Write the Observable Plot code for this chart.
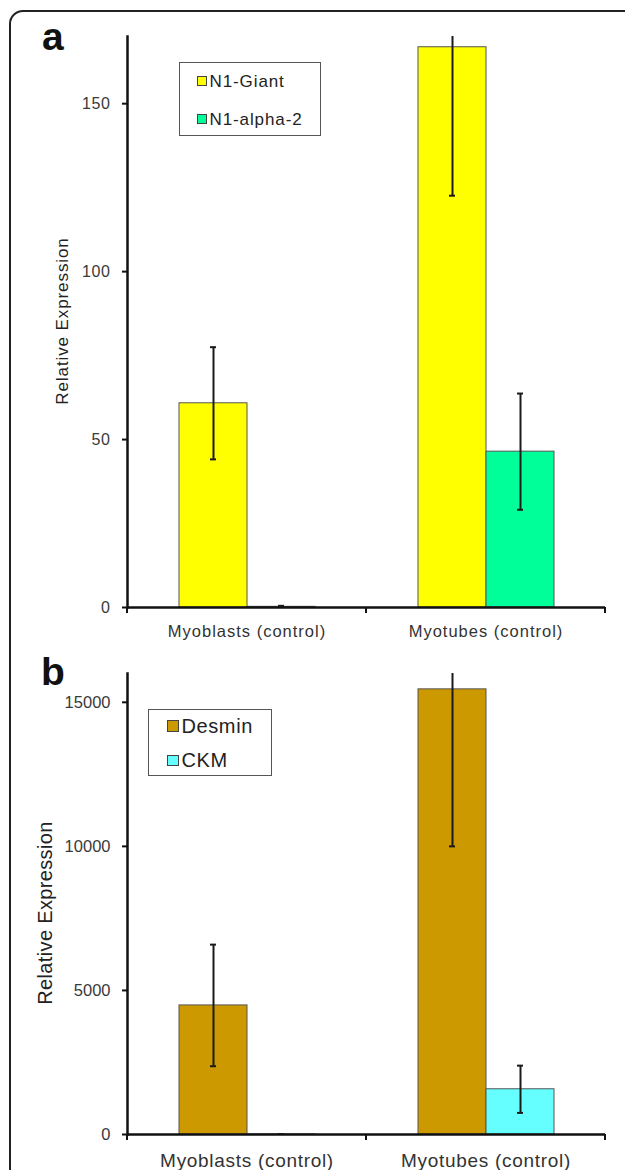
<!DOCTYPE html>
<html><head><meta charset="utf-8">
<script src="https://cdn.jsdelivr.net/npm/d3@7"></script>
<script src="https://cdn.jsdelivr.net/npm/@observablehq/plot@0.6"></script>
<style>
body{margin:0;background:#fff;}
#page{position:relative;width:625px;height:1170px;overflow:hidden;font-family:"Liberation Sans",Arial,sans-serif;background:#fff;}
#frame{position:absolute;left:9px;top:10px;width:700px;height:1300px;border:2px solid #222;border-radius:14px;box-sizing:border-box;}
.chart{position:absolute;left:0;}
.letter{position:absolute;font-weight:bold;font-size:39px;line-height:1;color:#111;}
.ylab{position:absolute;white-space:nowrap;line-height:1;transform:translate(-50%,-50%) rotate(-90deg);color:#222;}
.legend{position:absolute;border:1.5px solid #555;box-sizing:border-box;background:#fff;}
.item{position:absolute;white-space:nowrap;line-height:1;color:#222;}
.sw{position:absolute;border:1px solid #444;box-sizing:border-box;}
#chartA g[aria-label="y-axis tick label"], #chartB g[aria-label="y-axis tick label"]{fill:#3a3a3a;}
#chartA g[aria-label="y-axis tick label"]{letter-spacing:0.6px;}
#chartA g[aria-label="fx-axis tick label"]{fill:#333;letter-spacing:1px;}
#chartB g[aria-label="fx-axis tick label"]{fill:#333;letter-spacing:0.7px;}
</style>
</head><body>
<div id="page">
  <div id="frame"></div>
  <div id="chartA" class="chart" style="top:0"></div>
  <div id="chartB" class="chart" style="top:640px"></div>
  <div class="letter" style="left:42px;top:17px">a</div>
  <div class="letter" style="left:41px;top:652px">b</div>
  <div class="ylab" style="left:62px;top:321px;font-size:17px;letter-spacing:0.9px">Relative Expression</div>
  <div class="ylab" style="left:45px;top:913px;font-size:20px;letter-spacing:0.35px">Relative Expression</div>
  <div id="legendA"></div>
  <div id="legendB"></div>
</div>
<script>
// ---------- data ----------
const groups = ["Myoblasts (control)", "Myotubes (control)"];

const seriesA = ["N1-Giant", "N1-alpha-2"];
const giantMean = [60.8, 166.8];
const giantErr = [16.7, 44.2];
const alpha2Mean = [0.2, 46.4];
const alpha2Err = [0.3, 17.3];
const colorsA = ["#ffff00", "#00ff99"];
const ticksA = [0, 50, 100, 150];

const seriesB = ["Desmin", "CKM"];
const desminMean = [4480, 15450];
const desminErr = [2110, 5450];
const ckmMean = [3, 1570];
const ckmErr = [2, 820];
const colorsB = ["#cc9900", "#66ffff"];
const ticksB = [0, 5000, 10000, 15000];

function rowsOf(series, means, errs) {
  return groups.flatMap((g, i) => series.map((s, j) => ({group: g, series: s, mean: means[j][i], err: errs[j][i]})));
}
const rowsA = rowsOf(seriesA, [giantMean, alpha2Mean], [giantErr, alpha2Err]);
const rowsB = rowsOf(seriesB, [desminMean, ckmMean], [desminErr, ckmErr]);

function boundaryTicks(index, scales, values, dim) {
  const g = d3.create("svg:g");
  const y0 = scales.y(0);
  for (const x of [dim.marginLeft, dim.width - dim.marginRight]) {
    g.append("line").attr("x1", x).attr("x2", x).attr("y1", y0).attr("y2", y0 + 6)
      .attr("stroke", "#111").attr("stroke-width", 2);
  }
  return g.node();
}

function panel(o) {
  return Plot.plot({
    width: 625, height: o.height,
    marginLeft: 127, marginRight: 20, marginTop: o.marginTop, marginBottom: o.marginBottom,
    style: {fontFamily: "'Liberation Sans', Arial, sans-serif", background: "transparent", overflow: "visible"},
    fx: {domain: groups, paddingInner: 0, paddingOuter: 0},
    x: {domain: o.series, paddingInner: 0, paddingOuter: 0.757, axis: null},
    y: {domain: o.yDomain},
    color: {domain: o.series, range: o.colors},
    marks: [
      Plot.barY(o.rows, {fx: "group", x: "series", y: "mean", fill: "series", stroke: "#555", strokeWidth: 1}),
      Plot.ruleX(o.rows, {fx: "group", x: "series", y1: d => Math.max(0, d.mean - d.err), y2: d => d.mean + d.err, stroke: "#1a1a1a", strokeWidth: 2, clip: true}),
      Plot.tickY(o.rows, {fx: "group", x: "series", y: d => d.mean - d.err, stroke: "#1a1a1a", strokeWidth: 2, insetLeft: 31, insetRight: 31, clip: true}),
      Plot.tickY(o.rows, {fx: "group", x: "series", y: d => d.mean + d.err, stroke: "#1a1a1a", strokeWidth: 2, insetLeft: 31, insetRight: 31, clip: true}),
      Plot.ruleY([0], {stroke: "#111", strokeWidth: 2.5}),
      Plot.frame({anchor: "left", facetAnchor: "left", stroke: "#111", strokeWidth: 2.5}),
      Plot.axisY({ticks: o.ticks, tickFormat: d => `${d}`, tickSize: 5, tickPadding: 12, strokeWidth: 2, label: null, fontSize: o.tickFont, stroke: "#111"}),
      Plot.axisFx({anchor: "bottom", tickSize: 0, tickPadding: o.xPad, label: null, fontSize: o.xFont}),
      boundaryTicks
    ]
  });
}

document.getElementById("chartA").append(panel({
  rows: rowsA, series: seriesA, colors: colorsA, yDomain: [0, 170], ticks: ticksA,
  height: 640, marginTop: 36, marginBottom: 33, tickFont: 16, xPad: 18, xFont: 16.5
}));
document.getElementById("chartB").append(panel({
  rows: rowsB, series: seriesB, colors: colorsB, yDomain: [0, 16000], ticks: ticksB,
  height: 530, marginTop: 33, marginBottom: 36, tickFont: 16.5, xPad: 19, xFont: 19
}));

// ---------- legends ----------
function legend(el, series, colors, box, sw, txt) {
  const host = document.getElementById(el);
  const b = document.createElement("div");
  b.className = "legend";
  Object.assign(b.style, {left: box.x + "px", top: box.y + "px", width: box.w + "px", height: box.h + "px"});
  host.append(b);
  series.forEach((s, i) => {
    const q = document.createElement("div");
    q.className = "sw";
    Object.assign(q.style, {left: sw.x + "px", top: (sw.y + i * sw.step) + "px", width: sw.size + "px", height: sw.size + "px", background: colors[i]});
    host.append(q);
    const t = document.createElement("div");
    t.className = "item";
    t.textContent = s;
    Object.assign(t.style, {left: txt.x + "px", top: (txt.y + i * sw.step) + "px", fontSize: txt.size + "px", letterSpacing: txt.ls + "px"});
    host.append(t);
  });
}
legend("legendA", seriesA, colorsA, {x: 179, y: 62, w: 142, h: 74}, {x: 197, y: 76, step: 38, size: 9.5}, {x: 209.5, y: 72.8, size: 17, ls: 0.9});
legend("legendB", seriesB, colorsB, {x: 148, y: 709, w: 124, h: 67}, {x: 167, y: 720, step: 34.5, size: 11.5}, {x: 181.5, y: 715.7, size: 20, ls: 0.6});
</script>
</body></html>
